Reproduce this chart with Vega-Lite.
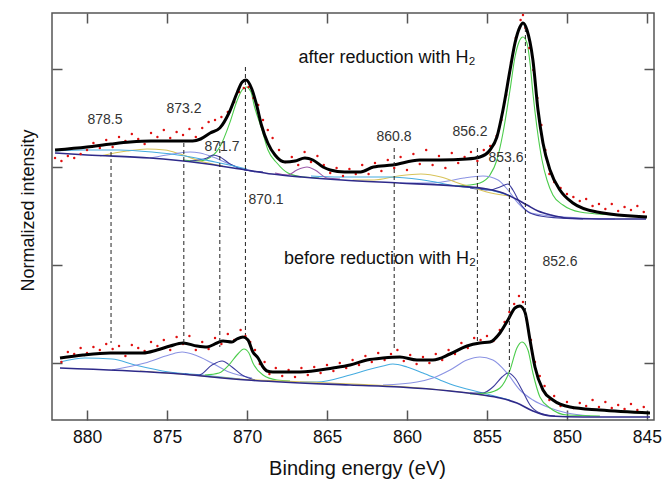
{
  "$schema": "https://vega.github.io/schema/vega-lite/v6.json",
  "width": 602,
  "height": 407,
  "autosize": "none",
  "padding": {"left": 52, "top": 13, "right": 8, "bottom": 59},
  "background": "white",
  "config": {
    "font": "Liberation Sans",
    "view": {"stroke": "#555", "strokeWidth": 1.5},
    "axis": {"grid": false, "domain": false}
  },
  "datasets": {
    "lines": [
      {"id":"A_fit","k":"fit","e":882.0,"v":270},{"id":"A_fit","k":"fit","e":880.0,"v":273},{"id":"A_fit","k":"fit","e":878.5,"v":276},{"id":"A_fit","k":"fit","e":877.3,"v":278},{"id":"A_fit","k":"fit","e":876.0,"v":279},{"id":"A_fit","k":"fit","e":874.0,"v":279},{"id":"A_fit","k":"fit","e":873.4,"v":279},{"id":"A_fit","k":"fit","e":872.9,"v":281},{"id":"A_fit","k":"fit","e":872.3,"v":287},{"id":"A_fit","k":"fit","e":871.7,"v":292},{"id":"A_fit","k":"fit","e":871.1,"v":308},{"id":"A_fit","k":"fit","e":870.6,"v":328},{"id":"A_fit","k":"fit","e":870.3,"v":338},{"id":"A_fit","k":"fit","e":870.06,"v":340},{"id":"A_fit","k":"fit","e":869.7,"v":331},{"id":"A_fit","k":"fit","e":869.4,"v":315},{"id":"A_fit","k":"fit","e":869.1,"v":295},{"id":"A_fit","k":"fit","e":868.7,"v":277},{"id":"A_fit","k":"fit","e":868.25,"v":265},{"id":"A_fit","k":"fit","e":867.63,"v":258},{"id":"A_fit","k":"fit","e":867.0,"v":259},{"id":"A_fit","k":"fit","e":866.38,"v":262},{"id":"A_fit","k":"fit","e":865.88,"v":260},{"id":"A_fit","k":"fit","e":865.25,"v":253},{"id":"A_fit","k":"fit","e":864.8,"v":250},{"id":"A_fit","k":"fit","e":863.9,"v":248},{"id":"A_fit","k":"fit","e":862.9,"v":248},{"id":"A_fit","k":"fit","e":862.1,"v":253},{"id":"A_fit","k":"fit","e":860.9,"v":255},{"id":"A_fit","k":"fit","e":859.2,"v":260},{"id":"A_fit","k":"fit","e":857.9,"v":260},{"id":"A_fit","k":"fit","e":856.25,"v":261},{"id":"A_fit","k":"fit","e":855.44,"v":263},{"id":"A_fit","k":"fit","e":854.81,"v":270},{"id":"A_fit","k":"fit","e":854.38,"v":283},{"id":"A_fit","k":"fit","e":854.0,"v":310},{"id":"A_fit","k":"fit","e":853.56,"v":350},{"id":"A_fit","k":"fit","e":853.25,"v":377},{"id":"A_fit","k":"fit","e":852.94,"v":393},{"id":"A_fit","k":"fit","e":852.75,"v":397},{"id":"A_fit","k":"fit","e":852.5,"v":390},{"id":"A_fit","k":"fit","e":852.13,"v":360},{"id":"A_fit","k":"fit","e":851.81,"v":310},{"id":"A_fit","k":"fit","e":851.5,"v":277},{"id":"A_fit","k":"fit","e":851.06,"v":250},{"id":"A_fit","k":"fit","e":850.44,"v":230},{"id":"A_fit","k":"fit","e":849.63,"v":217},{"id":"A_fit","k":"fit","e":848.13,"v":208},{"id":"A_fit","k":"fit","e":845.0,"v":203},

      {"id":"A_bg","k":"bg","e":882.0,"v":267},{"id":"A_bg","k":"bg","e":880.0,"v":265},{"id":"A_bg","k":"bg","e":876.06,"v":262},{"id":"A_bg","k":"bg","e":872.94,"v":257},{"id":"A_bg","k":"bg","e":870.06,"v":250},{"id":"A_bg","k":"bg","e":868.44,"v":246},{"id":"A_bg","k":"bg","e":866.56,"v":243},{"id":"A_bg","k":"bg","e":864.06,"v":240},{"id":"A_bg","k":"bg","e":860.5,"v":237},{"id":"A_bg","k":"bg","e":857.0,"v":234},{"id":"A_bg","k":"bg","e":855.0,"v":231},{"id":"A_bg","k":"bg","e":854.0,"v":227},{"id":"A_bg","k":"bg","e":853.19,"v":221},{"id":"A_bg","k":"bg","e":852.5,"v":215},{"id":"A_bg","k":"bg","e":851.81,"v":209},{"id":"A_bg","k":"bg","e":851.0,"v":205},{"id":"A_bg","k":"bg","e":850.0,"v":202},{"id":"A_bg","k":"bg","e":848.0,"v":201},{"id":"A_bg","k":"bg","e":845.06,"v":201},

      {"id":"A_g1","k":"g","e":874.0,"v":260},{"id":"A_g1","k":"g","e":873.0,"v":259},{"id":"A_g1","k":"g","e":872.1,"v":265},{"id":"A_g1","k":"g","e":871.7,"v":273},{"id":"A_g1","k":"g","e":871.06,"v":298},{"id":"A_g1","k":"g","e":870.63,"v":319},{"id":"A_g1","k":"g","e":870.31,"v":330},{"id":"A_g1","k":"g","e":870.06,"v":333},{"id":"A_g1","k":"g","e":869.75,"v":328},{"id":"A_g1","k":"g","e":869.56,"v":315},{"id":"A_g1","k":"g","e":869.06,"v":290},{"id":"A_g1","k":"g","e":868.69,"v":270},{"id":"A_g1","k":"g","e":868.13,"v":257},{"id":"A_g1","k":"g","e":867.44,"v":247},{"id":"A_g1","k":"g","e":866.5,"v":243},{"id":"A_g1","k":"g","e":865.5,"v":242},

      {"id":"A_g2","k":"g","e":857.0,"v":234},{"id":"A_g2","k":"g","e":856.06,"v":235},{"id":"A_g2","k":"g","e":855.44,"v":237},{"id":"A_g2","k":"g","e":854.81,"v":245},{"id":"A_g2","k":"g","e":854.38,"v":260},{"id":"A_g2","k":"g","e":854.0,"v":287},{"id":"A_g2","k":"g","e":853.56,"v":330},{"id":"A_g2","k":"g","e":853.25,"v":363},{"id":"A_g2","k":"g","e":853.0,"v":378},{"id":"A_g2","k":"g","e":852.75,"v":383},{"id":"A_g2","k":"g","e":852.5,"v":377},{"id":"A_g2","k":"g","e":852.31,"v":357},{"id":"A_g2","k":"g","e":852.13,"v":327},{"id":"A_g2","k":"g","e":851.88,"v":293},{"id":"A_g2","k":"g","e":851.56,"v":260},{"id":"A_g2","k":"g","e":851.25,"v":240},{"id":"A_g2","k":"g","e":850.88,"v":225},{"id":"A_g2","k":"g","e":850.25,"v":215},{"id":"A_g2","k":"g","e":849.19,"v":208},{"id":"A_g2","k":"g","e":847.13,"v":205},{"id":"A_g2","k":"g","e":845.0,"v":203},

      {"id":"A_p2","k":"p","e":860.44,"v":237},{"id":"A_p2","k":"p","e":858.5,"v":237},{"id":"A_p2","k":"p","e":857.44,"v":239},{"id":"A_p2","k":"p","e":856.44,"v":242},{"id":"A_p2","k":"p","e":855.25,"v":244},{"id":"A_p2","k":"p","e":854.31,"v":240},{"id":"A_p2","k":"p","e":853.69,"v":230},{"id":"A_p2","k":"p","e":853.06,"v":217},{"id":"A_p2","k":"p","e":852.25,"v":207},{"id":"A_p2","k":"p","e":850.19,"v":203},{"id":"A_p2","k":"p","e":847.0,"v":201},

      {"id":"A_n2","k":"n","e":856.06,"v":232},{"id":"A_n2","k":"n","e":854.81,"v":230},{"id":"A_n2","k":"n","e":854.19,"v":233},{"id":"A_n2","k":"n","e":853.69,"v":236},{"id":"A_n2","k":"n","e":853.38,"v":230},{"id":"A_n2","k":"n","e":852.94,"v":217},{"id":"A_n2","k":"n","e":852.31,"v":207},{"id":"A_n2","k":"n","e":851.25,"v":203},{"id":"A_n2","k":"n","e":849.0,"v":201},

      {"id":"A_y2","k":"y","e":863.4,"v":240},{"id":"A_y2","k":"y","e":862.06,"v":240},{"id":"A_y2","k":"y","e":860.56,"v":244},{"id":"A_y2","k":"y","e":859.13,"v":246},{"id":"A_y2","k":"y","e":857.88,"v":243},{"id":"A_y2","k":"y","e":856.81,"v":237},{"id":"A_y2","k":"y","e":855.81,"v":232},{"id":"A_y2","k":"y","e":854.75,"v":227},{"id":"A_y2","k":"y","e":853.5,"v":224},

      {"id":"A_c2","k":"c","e":866.0,"v":244},{"id":"A_c2","k":"c","e":864.19,"v":243},{"id":"A_c2","k":"c","e":861.06,"v":243},{"id":"A_c2","k":"c","e":859.0,"v":240},{"id":"A_c2","k":"c","e":856.88,"v":234},{"id":"A_c2","k":"c","e":854.81,"v":230},{"id":"A_c2","k":"c","e":853.5,"v":224},

      {"id":"A_m","k":"m","e":868.25,"v":247},{"id":"A_m","k":"m","e":867.44,"v":245},{"id":"A_m","k":"m","e":866.88,"v":250},{"id":"A_m","k":"m","e":866.25,"v":253},{"id":"A_m","k":"m","e":865.75,"v":250},{"id":"A_m","k":"m","e":865.0,"v":242},{"id":"A_m","k":"m","e":864.19,"v":241},

      {"id":"A_y1","k":"y","e":879.19,"v":264},{"id":"A_y1","k":"y","e":877.5,"v":269},{"id":"A_y1","k":"y","e":876.25,"v":271},{"id":"A_y1","k":"y","e":875.13,"v":270},{"id":"A_y1","k":"y","e":874.19,"v":266},{"id":"A_y1","k":"y","e":872.94,"v":259},{"id":"A_y1","k":"y","e":871.5,"v":254},

      {"id":"A_p1","k":"p","e":876.06,"v":262},{"id":"A_p1","k":"p","e":874.63,"v":266},{"id":"A_p1","k":"p","e":873.56,"v":268},{"id":"A_p1","k":"p","e":872.94,"v":267},{"id":"A_p1","k":"p","e":872.13,"v":263},{"id":"A_p1","k":"p","e":871.25,"v":257},{"id":"A_p1","k":"p","e":870.44,"v":252},{"id":"A_p1","k":"p","e":869.5,"v":248},

      {"id":"A_n1","k":"n","e":873.56,"v":259},{"id":"A_n1","k":"n","e":872.5,"v":262},{"id":"A_n1","k":"n","e":872.13,"v":265},{"id":"A_n1","k":"n","e":871.69,"v":263},{"id":"A_n1","k":"n","e":871.06,"v":256},{"id":"A_n1","k":"n","e":870.13,"v":250},{"id":"A_n1","k":"n","e":869.0,"v":248},

      {"id":"A_c1","k":"c","e":882.0,"v":269},{"id":"A_c1","k":"c","e":880.13,"v":270},{"id":"A_c1","k":"c","e":878.0,"v":270},{"id":"A_c1","k":"c","e":875.94,"v":268},{"id":"A_c1","k":"c","e":873.88,"v":264},{"id":"A_c1","k":"c","e":872.0,"v":258},{"id":"A_c1","k":"c","e":870.0,"v":251},

      {"id":"B_fit","k":"fit","e":881.69,"v":62},{"id":"B_fit","k":"fit","e":880.25,"v":65},{"id":"B_fit","k":"fit","e":878.56,"v":67},{"id":"B_fit","k":"fit","e":876.5,"v":67},{"id":"B_fit","k":"fit","e":875.63,"v":70},{"id":"B_fit","k":"fit","e":874.81,"v":74},{"id":"B_fit","k":"fit","e":874.0,"v":77},{"id":"B_fit","k":"fit","e":873.13,"v":74},{"id":"B_fit","k":"fit","e":872.5,"v":73},{"id":"B_fit","k":"fit","e":871.88,"v":77},{"id":"B_fit","k":"fit","e":871.5,"v":79},{"id":"B_fit","k":"fit","e":870.94,"v":78},{"id":"B_fit","k":"fit","e":870.63,"v":81},{"id":"B_fit","k":"fit","e":870.25,"v":83},{"id":"B_fit","k":"fit","e":869.94,"v":80},{"id":"B_fit","k":"fit","e":869.63,"v":68},{"id":"B_fit","k":"fit","e":869.31,"v":62},{"id":"B_fit","k":"fit","e":869.0,"v":53},{"id":"B_fit","k":"fit","e":868.75,"v":49},{"id":"B_fit","k":"fit","e":868.38,"v":48},{"id":"B_fit","k":"fit","e":866.69,"v":48},{"id":"B_fit","k":"fit","e":864.63,"v":52},{"id":"B_fit","k":"fit","e":863.56,"v":55},{"id":"B_fit","k":"fit","e":862.5,"v":60},{"id":"B_fit","k":"fit","e":861.5,"v":62},{"id":"B_fit","k":"fit","e":860.44,"v":63},{"id":"B_fit","k":"fit","e":859.38,"v":60},{"id":"B_fit","k":"fit","e":858.38,"v":60},{"id":"B_fit","k":"fit","e":857.31,"v":66},{"id":"B_fit","k":"fit","e":856.25,"v":74},{"id":"B_fit","k":"fit","e":855.44,"v":77},{"id":"B_fit","k":"fit","e":854.81,"v":78},{"id":"B_fit","k":"fit","e":854.19,"v":87},{"id":"B_fit","k":"fit","e":853.69,"v":100},{"id":"B_fit","k":"fit","e":853.25,"v":112},{"id":"B_fit","k":"fit","e":852.94,"v":114},{"id":"B_fit","k":"fit","e":852.63,"v":108},{"id":"B_fit","k":"fit","e":852.31,"v":80},{"id":"B_fit","k":"fit","e":852.0,"v":53},{"id":"B_fit","k":"fit","e":851.5,"v":30},{"id":"B_fit","k":"fit","e":850.88,"v":20},{"id":"B_fit","k":"fit","e":849.81,"v":13},{"id":"B_fit","k":"fit","e":847.94,"v":10},{"id":"B_fit","k":"fit","e":844.81,"v":7},

      {"id":"B_bg","k":"bg","e":881.69,"v":52},{"id":"B_bg","k":"bg","e":875.0,"v":47},{"id":"B_bg","k":"bg","e":870.0,"v":40},{"id":"B_bg","k":"bg","e":863.56,"v":35},{"id":"B_bg","k":"bg","e":860.44,"v":33},{"id":"B_bg","k":"bg","e":857.31,"v":29},{"id":"B_bg","k":"bg","e":855.25,"v":25},{"id":"B_bg","k":"bg","e":854.19,"v":22},{"id":"B_bg","k":"bg","e":853.13,"v":17},{"id":"B_bg","k":"bg","e":852.13,"v":9},{"id":"B_bg","k":"bg","e":851.06,"v":4},{"id":"B_bg","k":"bg","e":849.0,"v":3},{"id":"B_bg","k":"bg","e":844.81,"v":3},

      {"id":"B_c1","k":"c","e":881.69,"v":58},{"id":"B_c1","k":"c","e":880.13,"v":62},{"id":"B_c1","k":"c","e":878.44,"v":61},{"id":"B_c1","k":"c","e":877.0,"v":55},{"id":"B_c1","k":"c","e":874.88,"v":48},{"id":"B_c1","k":"c","e":872.81,"v":45},{"id":"B_c1","k":"c","e":870.44,"v":41},

      {"id":"B_p1","k":"p","e":878.44,"v":50},{"id":"B_p1","k":"p","e":876.38,"v":57},{"id":"B_p1","k":"p","e":874.88,"v":65},{"id":"B_p1","k":"p","e":874.06,"v":68},{"id":"B_p1","k":"p","e":873.25,"v":65},{"id":"B_p1","k":"p","e":872.19,"v":57},{"id":"B_p1","k":"p","e":871.13,"v":48},{"id":"B_p1","k":"p","e":869.69,"v":42},

      {"id":"B_n1","k":"n","e":873.88,"v":46},{"id":"B_n1","k":"n","e":873.0,"v":45},{"id":"B_n1","k":"n","e":872.19,"v":55},{"id":"B_n1","k":"n","e":871.56,"v":59},{"id":"B_n1","k":"n","e":870.94,"v":53},{"id":"B_n1","k":"n","e":870.31,"v":45},{"id":"B_n1","k":"n","e":869.5,"v":40},

      {"id":"B_g1","k":"g","e":872.63,"v":45},{"id":"B_g1","k":"g","e":871.75,"v":47},{"id":"B_g1","k":"g","e":871.13,"v":55},{"id":"B_g1","k":"g","e":870.63,"v":65},{"id":"B_g1","k":"g","e":870.19,"v":71},{"id":"B_g1","k":"g","e":869.88,"v":67},{"id":"B_g1","k":"g","e":869.63,"v":57},{"id":"B_g1","k":"g","e":869.0,"v":45},{"id":"B_g1","k":"g","e":868.13,"v":40},{"id":"B_g1","k":"g","e":867.31,"v":39},

      {"id":"B_c2","k":"c","e":866.69,"v":38},{"id":"B_c2","k":"c","e":865.63,"v":38},{"id":"B_c2","k":"c","e":863.56,"v":45},{"id":"B_c2","k":"c","e":862.5,"v":50},{"id":"B_c2","k":"c","e":861.5,"v":54},{"id":"B_c2","k":"c","e":860.88,"v":56},{"id":"B_c2","k":"c","e":860.0,"v":53},{"id":"B_c2","k":"c","e":859.0,"v":47},{"id":"B_c2","k":"c","e":857.94,"v":40},{"id":"B_c2","k":"c","e":857.31,"v":36},{"id":"B_c2","k":"c","e":855.25,"v":27},{"id":"B_c2","k":"c","e":853.56,"v":20},

      {"id":"B_p2","k":"p","e":861.5,"v":35},{"id":"B_p2","k":"p","e":859.38,"v":38},{"id":"B_p2","k":"p","e":858.38,"v":42},{"id":"B_p2","k":"p","e":857.31,"v":50},{"id":"B_p2","k":"p","e":856.25,"v":60},{"id":"B_p2","k":"p","e":855.44,"v":63},{"id":"B_p2","k":"p","e":854.63,"v":60},{"id":"B_p2","k":"p","e":853.75,"v":47},{"id":"B_p2","k":"p","e":852.94,"v":30},{"id":"B_p2","k":"p","e":852.13,"v":20},{"id":"B_p2","k":"p","e":851.06,"v":12},{"id":"B_p2","k":"p","e":850.0,"v":7},{"id":"B_p2","k":"p","e":848.56,"v":4},

      {"id":"B_n2","k":"n","e":856.06,"v":27},{"id":"B_n2","k":"n","e":855.25,"v":27},{"id":"B_n2","k":"n","e":854.63,"v":33},{"id":"B_n2","k":"n","e":854.06,"v":43},{"id":"B_n2","k":"n","e":853.69,"v":47},{"id":"B_n2","k":"n","e":853.25,"v":42},{"id":"B_n2","k":"n","e":852.81,"v":30},{"id":"B_n2","k":"n","e":852.31,"v":15},{"id":"B_n2","k":"n","e":851.69,"v":7},{"id":"B_n2","k":"n","e":850.75,"v":4},

      {"id":"B_g2","k":"g","e":856.06,"v":26},{"id":"B_g2","k":"g","e":855.0,"v":27},{"id":"B_g2","k":"g","e":854.19,"v":32},{"id":"B_g2","k":"g","e":853.56,"v":50},{"id":"B_g2","k":"g","e":853.13,"v":72},{"id":"B_g2","k":"g","e":852.81,"v":78},{"id":"B_g2","k":"g","e":852.44,"v":70},{"id":"B_g2","k":"g","e":852.13,"v":47},{"id":"B_g2","k":"g","e":851.69,"v":23},{"id":"B_g2","k":"g","e":851.06,"v":12},{"id":"B_g2","k":"g","e":850.0,"v":5},{"id":"B_g2","k":"g","e":847.94,"v":4},

      {"id":"B_y","k":"y","e":876.69,"v":49},{"id":"B_y","k":"y","e":874.19,"v":46},{"id":"B_y","k":"y","e":870.44,"v":41},{"id":"B_y","k":"y","e":864.81,"v":37},{"id":"B_y","k":"y","e":859.19,"v":32},{"id":"B_y","k":"y","e":856.69,"v":28},{"id":"B_y","k":"y","e":854.81,"v":24}
    ],
    "dots": [
      {"e":882.0,"v":262},{"e":881.6,"v":259},{"e":881.2,"v":264},{"e":880.8,"v":262},{"e":880.4,"v":266},{"e":880.0,"v":270},{"e":879.6,"v":277},{"e":879.2,"v":272},{"e":878.8,"v":280},{"e":878.4,"v":273},{"e":878.0,"v":283},{"e":877.6,"v":279},{"e":877.2,"v":286},{"e":876.8,"v":281},{"e":876.4,"v":276},{"e":876.0,"v":287},{"e":875.6,"v":283},{"e":875.2,"v":290},{"e":874.8,"v":282},{"e":874.4,"v":288},{"e":874.0,"v":285},{"e":873.6,"v":291},{"e":873.2,"v":283},{"e":872.8,"v":292},{"e":872.4,"v":298},{"e":872.0,"v":300},{"e":871.6,"v":303},{"e":871.2,"v":308},{"e":870.8,"v":318},{"e":870.5,"v":328},{"e":870.2,"v":332},{"e":869.9,"v":333},{"e":869.6,"v":322},{"e":869.3,"v":315},{"e":869.0,"v":300},{"e":868.7,"v":290},{"e":868.4,"v":282},{"e":868.0,"v":270},{"e":867.6,"v":258},{"e":867.2,"v":263},{"e":866.8,"v":255},{"e":866.4,"v":268},{"e":866.0,"v":258},{"e":865.6,"v":264},{"e":865.2,"v":255},{"e":864.8,"v":247},{"e":864.4,"v":252},{"e":864.0,"v":244},{"e":863.6,"v":251},{"e":863.2,"v":246},{"e":862.8,"v":255},{"e":862.4,"v":246},{"e":862.0,"v":257},{"e":861.6,"v":249},{"e":861.2,"v":260},{"e":860.8,"v":252},{"e":860.4,"v":263},{"e":860.0,"v":250},{"e":859.6,"v":266},{"e":859.2,"v":256},{"e":858.8,"v":270},{"e":858.4,"v":255},{"e":858.0,"v":264},{"e":857.6,"v":252},{"e":857.2,"v":267},{"e":856.8,"v":257},{"e":856.4,"v":263},{"e":856.0,"v":268},{"e":855.6,"v":259},{"e":855.2,"v":270},{"e":854.8,"v":274},{"e":854.4,"v":284},{"e":854.1,"v":300},{"e":853.8,"v":325},{"e":853.5,"v":358},{"e":853.2,"v":382},{"e":852.9,"v":400},{"e":852.75,"v":405},{"e":852.6,"v":392},{"e":852.35,"v":372},{"e":852.1,"v":350},{"e":851.85,"v":322},{"e":851.6,"v":295},{"e":851.35,"v":270},{"e":851.1,"v":246},{"e":850.8,"v":238},{"e":850.4,"v":232},{"e":850.0,"v":226},{"e":849.6,"v":223},{"e":849.2,"v":219},{"e":848.8,"v":221},{"e":848.4,"v":214},{"e":848.0,"v":216},{"e":847.6,"v":211},{"e":847.2,"v":216},{"e":846.8,"v":209},{"e":846.4,"v":213},{"e":846.0,"v":210},{"e":845.6,"v":214},{"e":845.2,"v":208},

      {"e":881.6,"v":58},{"e":881.2,"v":68},{"e":880.8,"v":66},{"e":880.4,"v":72},{"e":880.0,"v":67},{"e":879.6,"v":73},{"e":879.2,"v":70},{"e":878.8,"v":76},{"e":878.4,"v":71},{"e":878.0,"v":74},{"e":877.6,"v":64},{"e":877.2,"v":75},{"e":876.8,"v":72},{"e":876.4,"v":69},{"e":876.0,"v":78},{"e":875.6,"v":74},{"e":875.2,"v":80},{"e":874.8,"v":70},{"e":874.4,"v":83},{"e":874.0,"v":76},{"e":873.6,"v":84},{"e":873.2,"v":70},{"e":872.8,"v":78},{"e":872.4,"v":71},{"e":872.0,"v":82},{"e":871.6,"v":76},{"e":871.2,"v":86},{"e":870.8,"v":80},{"e":870.4,"v":90},{"e":870.1,"v":84},{"e":869.8,"v":78},{"e":869.5,"v":70},{"e":869.2,"v":56},{"e":868.9,"v":58},{"e":868.6,"v":46},{"e":868.2,"v":52},{"e":867.8,"v":44},{"e":867.4,"v":50},{"e":867.0,"v":43},{"e":866.6,"v":52},{"e":866.2,"v":45},{"e":865.8,"v":53},{"e":865.4,"v":47},{"e":865.0,"v":55},{"e":864.6,"v":49},{"e":864.2,"v":57},{"e":863.8,"v":52},{"e":863.4,"v":60},{"e":863.0,"v":55},{"e":862.6,"v":64},{"e":862.2,"v":58},{"e":861.8,"v":67},{"e":861.4,"v":60},{"e":861.0,"v":66},{"e":860.6,"v":70},{"e":860.2,"v":59},{"e":859.8,"v":65},{"e":859.4,"v":56},{"e":859.0,"v":63},{"e":858.6,"v":57},{"e":858.2,"v":66},{"e":857.8,"v":60},{"e":857.4,"v":70},{"e":857.0,"v":66},{"e":856.6,"v":77},{"e":856.2,"v":72},{"e":855.8,"v":82},{"e":855.4,"v":80},{"e":855.0,"v":84},{"e":854.6,"v":79},{"e":854.2,"v":90},{"e":853.9,"v":98},{"e":853.6,"v":108},{"e":853.3,"v":116},{"e":853.0,"v":124},{"e":852.75,"v":118},{"e":852.5,"v":100},{"e":852.25,"v":80},{"e":852.0,"v":58},{"e":851.7,"v":44},{"e":851.4,"v":34},{"e":851.1,"v":20},{"e":850.8,"v":24},{"e":850.4,"v":14},{"e":850.0,"v":18},{"e":849.6,"v":12},{"e":849.2,"v":17},{"e":848.8,"v":14},{"e":848.4,"v":20},{"e":848.0,"v":13},{"e":847.6,"v":18},{"e":847.2,"v":12},{"e":846.8,"v":15},{"e":846.4,"v":11},{"e":846.0,"v":16},{"e":845.6,"v":10},{"e":845.2,"v":13}
    ],
    "rules": [
      {"e":878.5,"v":268,"v2":77},{"e":873.95,"v":277,"v2":77},{"e":871.7,"v":278,"v2":73},{"e":870.1,"v":353,"v2":85},{"e":860.8,"v":272,"v2":70},{"e":855.6,"v":272,"v2":77},{"e":853.6,"v":253,"v2":48},{"e":852.6,"v":392,"v2":103}
    ],
    "nums": [
      {"e":878.88,"v":300,"t":"878.5"},{"e":873.94,"v":311,"t":"873.2"},{"e":871.56,"v":273,"t":"871.7"},{"e":868.81,"v":220,"t":"870.1"},{"e":860.81,"v":283,"t":"860.8"},{"e":856.06,"v":288,"t":"856.2"},{"e":853.81,"v":262,"t":"853.6"},{"e":850.44,"v":158,"t":"852.6"}
    ],
    "phrases": [
      {"e":861.25,"v":362,"t":"after reduction with H₂"},{"e":861.69,"v":161,"t":"before reduction with H₂"}
    ]
  },
  "encoding": {
    "x": {"field": "e", "type": "quantitative", "scale": {"domain": [844.56, 882.19], "reverse": true, "nice": false, "zero": false}, "axis": null},
    "y": {"field": "v", "type": "quantitative", "scale": {"domain": [0, 407], "nice": false, "zero": false}, "axis": null}
  },
  "layer": [
    {
      "data": {"name": "lines"},
      "transform": [{"filter": "datum.k !== 'fit' && datum.k !== 'bg'"}],
      "mark": {"type": "line", "interpolate": "monotone", "strokeWidth": 1.1},
      "encoding": {
        "x": {"field": "e", "type": "quantitative", "scale": {"domain": [844.56, 882.19], "reverse": true, "nice": false, "zero": false},
              "axis": {"orient": "top", "values": [845, 850, 855, 860, 865, 870, 875, 880], "labels": false, "title": null, "tickSize": -10, "tickColor": "#555", "tickWidth": 1.5}},
        "y": {"field": "v", "type": "quantitative", "scale": {"domain": [0, 407], "nice": false, "zero": false},
              "axis": {"orient": "right", "values": [57, 155, 253, 351], "labels": false, "title": null, "tickSize": -10, "tickColor": "#555", "tickWidth": 1.5}},
        "detail": {"field": "id"},
        "color": {"field": "k", "type": "nominal", "legend": null,
                  "scale": {"domain": ["bg", "g", "p", "n", "c", "y", "m"], "range": ["#2a2a8c", "#4ccc4c", "#8b93e3", "#3d3d9e", "#45ace0", "#d8c35a", "#9b5aa9"]}}
      }
    },
    {
      "data": {"name": "lines"},
      "transform": [{"filter": "datum.k === 'bg'"}],
      "mark": {"type": "line", "interpolate": "monotone", "strokeWidth": 1.6, "color": "#2e2a8a"},
      "encoding": {"detail": {"field": "id"}}
    },
    {
      "data": {"name": "dots"},
      "mark": {"type": "point", "filled": true, "size": 6, "color": "#e01010", "opacity": 1},
      "encoding": {}
    },
    {
      "data": {"name": "lines"},
      "transform": [{"filter": "datum.k === 'fit'"}],
      "mark": {"type": "line", "interpolate": "monotone", "strokeWidth": 3, "color": "#000000"},
      "encoding": {
        "x": {"field": "e", "type": "quantitative", "scale": {"domain": [844.56, 882.19], "reverse": true, "nice": false, "zero": false},
              "axis": {"orient": "bottom", "values": [845, 850, 855, 860, 865, 870, 875, 880], "format": "d", "labelFlush": false, "tickSize": -10, "tickColor": "#555", "tickWidth": 1.5, "labelPadding": 18, "labelFontSize": 17.5, "labelColor": "#111", "labelFont": "Liberation Sans",
                       "title": "Binding energy (eV)", "titleFontSize": 20, "titleFontWeight": "normal", "titleColor": "#111", "titleFont": "Liberation Sans", "titleX": 305, "titleY": 54, "titleBaseline": "alphabetic", "titleAlign": "center", "titleAnchor": null}},
        "y": {"field": "v", "type": "quantitative", "scale": {"domain": [0, 407], "nice": false, "zero": false},
              "axis": {"orient": "left", "values": [57, 155, 253, 351], "labels": false, "tickSize": -10, "tickColor": "#555", "tickWidth": 1.5,
                       "title": "Normalized intensity", "titleFontSize": 18, "titleFontWeight": "normal", "titleColor": "#111", "titleFont": "Liberation Sans", "titleX": -19, "titleY": 197, "titleAngle": -90, "titleBaseline": "alphabetic", "titleAlign": "center"}},
        "detail": {"field": "id"}
      }
    },
    {
      "data": {"name": "rules"},
      "mark": {"type": "rule", "color": "#222", "strokeWidth": 1, "strokeDash": [4, 3]},
      "encoding": {"y2": {"field": "v2"}}
    },
    {
      "data": {"name": "nums"},
      "mark": {"type": "text", "font": "Liberation Sans", "fontSize": 14, "color": "#333", "align": "center", "baseline": "middle"},
      "encoding": {"text": {"field": "t"}}
    },
    {
      "data": {"name": "phrases"},
      "mark": {"type": "text", "font": "Liberation Sans", "fontSize": 18, "color": "#111", "align": "center", "baseline": "middle"},
      "encoding": {"text": {"field": "t"}}
    }
  ],
  "resolve": {"axis": {"x": "independent", "y": "independent"}}
}
